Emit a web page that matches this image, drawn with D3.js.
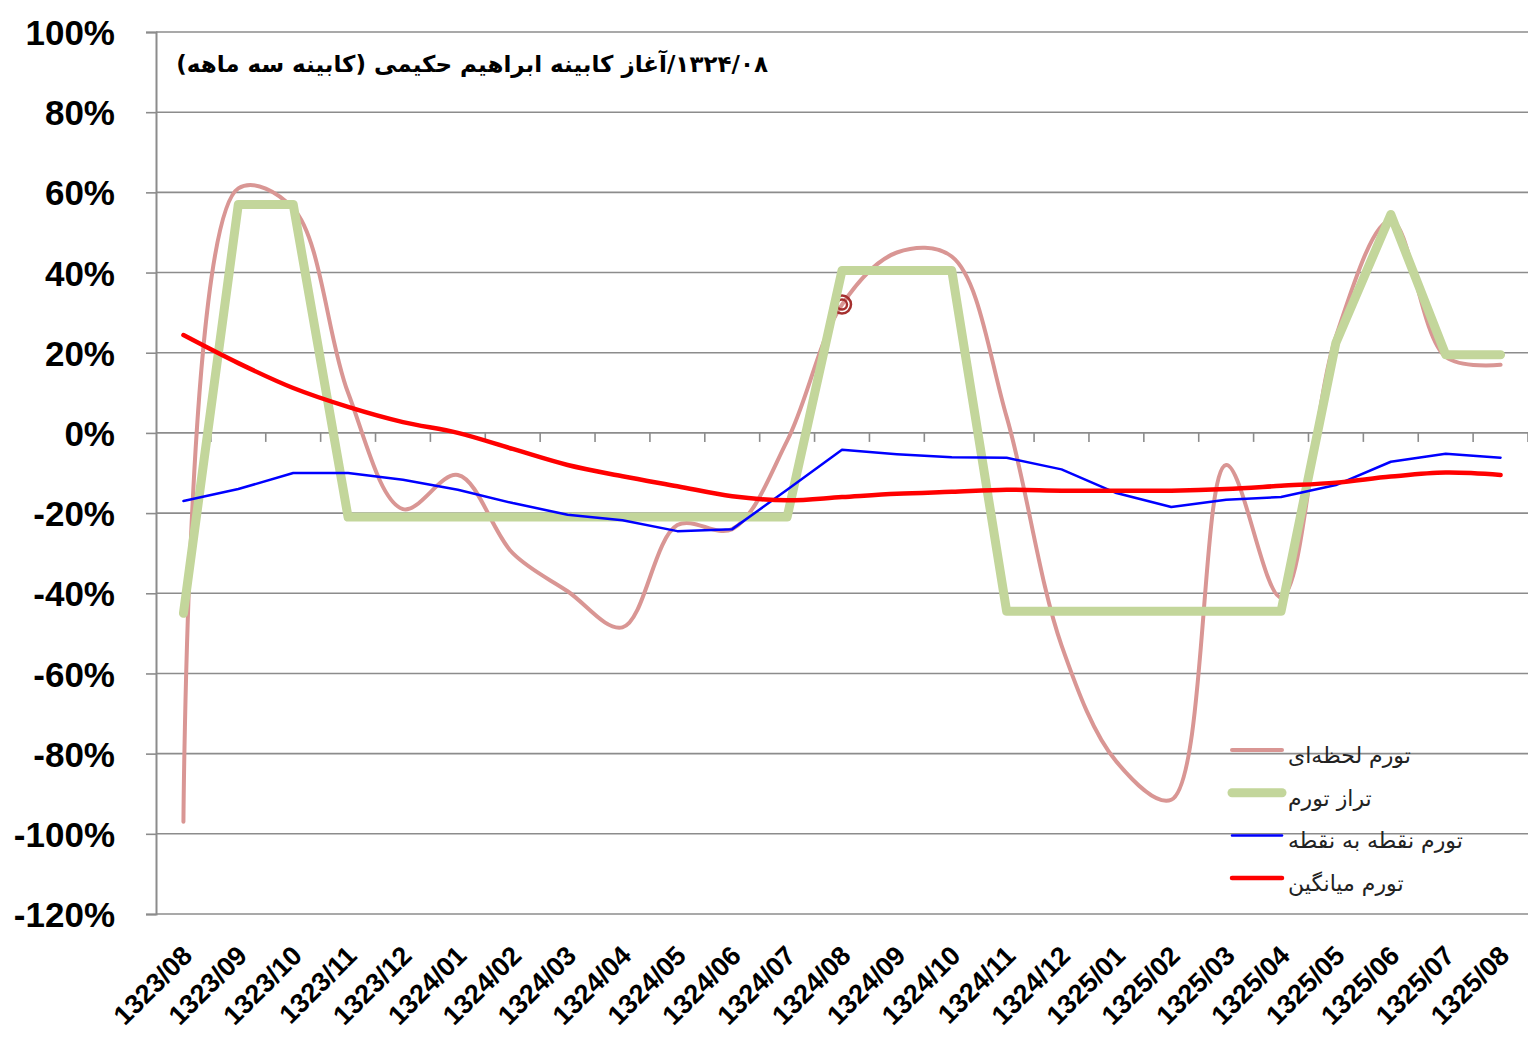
<!DOCTYPE html>
<html>
<head>
<meta charset="utf-8">
<script src="https://d3js.org/d3.v7.min.js"></script>
<style>
  html, body { margin: 0; padding: 0; background: #fff; }
  svg { display: block; }
</style>
</head>
<body>
<svg id="chart" width="1528" height="1038"></svg>
<script>
// months (Persian calendar)
var months = ["1323/08","1323/09","1323/10","1323/11","1323/12","1324/01","1324/02","1324/03","1324/04","1324/05","1324/06","1324/07","1324/08","1324/09","1324/10","1324/11","1324/12","1325/01","1325/02","1325/03","1325/04","1325/05","1325/06","1325/07","1325/08"];

// series, in percent
var momentary = [-97, 61, 56, 10, -19, -10.5, -30, -39.5, -48.5, -23, -24, -2, 32, 45, 44, 4, -53, -82, -91.5, -8, -41, 24, 53, 19, 17];
var level     = [-45, 57, 57, -21, -21, -21, -21, -21, -21, -21, -21, -21, 40.5, 40.5, 40.5, -44.5, -44.5, -44.5, -44.5, -44.5, -44.5, 22.5, 54.5, 19.5, 19.5];
var pointwise = [-17, -14, -10, -10, -11.7, -14.2, -17.5, -20.4, -21.8, -24.5, -24, -14.2, -4.2, -5.3, -6.1, -6.2, -9.1, -15, -18.5, -16.7, -16, -13, -7.2, -5.2, -6.2];
var average   = [24.4, 17.4, 11.2, 6.5, 2.7, 0, -4, -8, -10.8, -13.3, -15.8, -16.8, -16, -15.2, -14.7, -14.2, -14.4, -14.4, -14.4, -14, -13.2, -12.4, -10.9, -9.9, -10.5];

var yTicks = [100, 80, 60, 40, 20, 0, -20, -40, -60, -80, -100, -120];

var titleText = "۱۳۲۴/۰۸/آغاز کابینه ابراهیم حکیمی (کابینه سه ماهه)";
var markIndex = 12; // 1324/08 on the momentary series

var series = [
  {name: "تورم لحظه‌ای",      values: momentary, color: "#d99694", width: 4,   smooth: true},
  {name: "تراز تورم",          values: level,     color: "#c3d69b", width: 9,   smooth: false},
  {name: "تورم نقطه به نقطه", values: pointwise, color: "#0000ff", width: 2.5, smooth: false},
  {name: "تورم میانگین",       values: average,   color: "#ff0000", width: 4.5, smooth: true}
];

var svg = d3.select("#chart");
var pLeft = 156, pRight = 1528, pTop = 32, pBottom = 914;

var x = d3.scalePoint().domain(months).range([pLeft, pRight]).padding(0.5);
var step = x.step();
var y = d3.scaleLinear().domain([-120, 100]).range([pBottom, pTop]);

// gridlines
svg.append("g").selectAll("line").data(yTicks).join("line")
  .attr("x1", pLeft).attr("x2", pRight)
  .attr("y1", function(d){ return y(d); }).attr("y2", function(d){ return y(d); })
  .attr("stroke", "#8c8c8c").attr("stroke-width", 1.6);

// y axis
var yAxis = svg.append("g").attr("transform", "translate(" + pLeft + ",0)")
  .call(d3.axisLeft(y).tickValues(yTicks).tickSize(10).tickPadding(30).tickFormat(function(d){ return d + "%"; }));
yAxis.select(".domain").attr("stroke", "#8c8c8c").attr("stroke-width", 2);
yAxis.selectAll(".tick line").attr("stroke", "#8c8c8c").attr("stroke-width", 1.6);
yAxis.selectAll(".tick text")
  .attr("font-family", "'Liberation Sans', Arial, sans-serif")
  .attr("font-weight", "bold").attr("font-size", 35).attr("fill", "#000")
  .attr("x", -41).attr("dy", "0.36em");

// x axis at 0%: category boundary ticks
var bounds = d3.range(1, months.length + 1).map(function(k){ return pLeft + k * step; });
svg.append("g").selectAll("line").data(bounds).join("line")
  .attr("x1", function(d){ return d; }).attr("x2", function(d){ return d; })
  .attr("y1", y(0)).attr("y2", y(0) + 9)
  .attr("stroke", "#8c8c8c").attr("stroke-width", 1.6);

// x labels
svg.append("g").selectAll("text").data(months).join("text")
  .attr("transform", function(d){ return "translate(" + (x(d) - 3) + "," + 944 + ") rotate(-45)"; })
  .attr("text-anchor", "end")
  .attr("dy", "0.7em")
  .attr("font-family", "'Liberation Sans', Arial, sans-serif")
  .attr("font-weight", "bold").attr("font-size", 27).attr("fill", "#000")
  .text(function(d){ return d; });

// lines
function lineFor(s) {
  return d3.line()
    .x(function(d, i){ return x(months[i]); })
    .y(function(d){ return y(d); })
    .curve(s.smooth ? d3.curveCatmullRom.alpha(0.5) : d3.curveLinear);
}

series.forEach(function(s, k) {
  svg.append("path").datum(s.values)
    .attr("d", lineFor(s))
    .attr("fill", "none")
    .attr("stroke", s.color)
    .attr("stroke-width", s.width)
    .attr("stroke-linejoin", "round")
    .attr("stroke-linecap", "round");
  if (k === 0) {
    // highlighted point
    var mx = x(months[markIndex]), my = y(momentary[markIndex]);
    [9, 5].forEach(function(r) {
      svg.append("circle").attr("cx", mx).attr("cy", my).attr("r", r)
        .attr("fill", "none").attr("stroke", "#a5302f").attr("stroke-width", 2.5);
    });
  }
});

// title
svg.append("text")
  .attr("x", 768).attr("y", 72)
  .attr("text-anchor", "start")
  .attr("direction", "rtl")
  .attr("font-family", "'DejaVu Sans', sans-serif")
  .attr("font-weight", "bold").attr("font-size", 23).attr("fill", "#000")
  .text(titleText);

// legend
var lg = svg.append("g").attr("transform", "translate(1230,750)");
series.forEach(function(s, i) {
  var g = lg.append("g").attr("transform", "translate(0," + (i * 42.7) + ")");
  g.append("line").attr("x1", 2).attr("x2", 52).attr("y1", 0).attr("y2", 0)
    .attr("stroke", s.color).attr("stroke-width", s.width)
    .attr("stroke-linecap", "round");
  g.append("text").attr("x", 58).attr("y", 13)
    .attr("font-family", "'DejaVu Sans', sans-serif")
    .attr("font-size", 22).attr("fill", "#222")
    .text(s.name);
});
</script>
</body>
</html>
